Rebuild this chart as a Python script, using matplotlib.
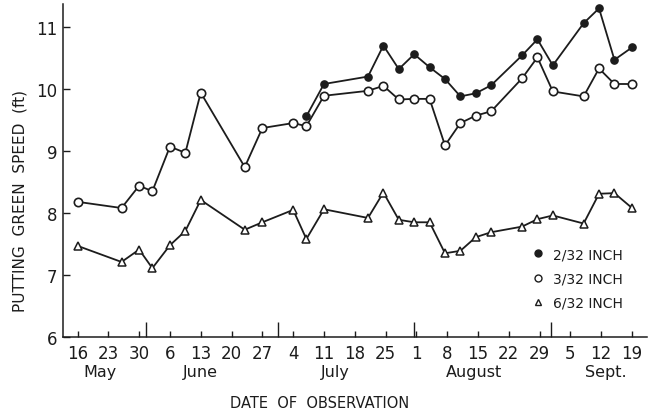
import numpy as np
import matplotlib
matplotlib.use('Agg')
import matplotlib.pyplot as plt
from matplotlib.lines import Line2D
import matplotlib.transforms as mtransforms

# ---------------------------------------------------------------------------
# Data (days counted from 16 May; speeds in feet)
# ---------------------------------------------------------------------------

obs_day = [0, 10, 14, 17, 21, 24.5, 28, 38, 42, 49, 52, 56, 66, 69.5,
           73, 76.5, 80, 83.5, 87, 90.5, 94, 101, 104.5, 108, 115, 118.5,
           122, 126]

speed_3_32 = [8.18, 8.08, 8.44, 8.35, 9.07, 8.97, 9.94, 8.74, 9.37, 9.45,
              9.40, 9.89, 9.97, 10.05, 9.83, 9.84, 9.84, 9.09, 9.45, 9.57,
              9.64, 10.17, 10.51, 9.96, 9.88, 10.33, 10.08, 10.08]

speed_6_32 = [7.47, 7.21, 7.41, 7.11, 7.48, 7.71, 8.21, 7.73, 7.85, 8.05,
              7.58, 8.06, 7.92, 8.33, 7.89, 7.85, 7.85, 7.35, 7.39, 7.61,
              7.69, 7.78, 7.90, 7.96, 7.83, 8.31, 8.32, 8.08]

# 2/32 inch cut was only measured from 7 July onward
first_2_32 = 10
speed_2_32 = [9.56, 10.08, 10.20, 10.70, 10.32, 10.56, 10.35, 10.16, 9.88,
              9.93, 10.06, 10.54, 10.80, 10.38, 11.06, 11.30, 10.47, 10.67]

series_labels = ['2/32 INCH', '3/32 INCH', '6/32 INCH']

week_day = list(range(0, 127, 7))
week_labels = ['16', '23', '30', '6', '13', '20', '27', '4', '11', '18',
               '25', '1', '8', '15', '22', '29', '5', '12', '19']
month_boundary_day = [15.5, 45.5, 76.5, 107.5]
month_names = ['May', 'June', 'July', 'August', 'Sept.']
month_name_day = [5, 28, 58.5, 90, 120]

INK = '#1c1c1c'

plt.rcParams.update({
    'font.family': 'DejaVu Sans',
    'axes.linewidth': 1.1,
    'axes.edgecolor': INK,
    'text.color': INK,
    'xtick.color': INK,
    'ytick.color': INK,
})

fig = plt.figure(figsize=(6.53, 4.14), dpi=100)
ax = fig.add_axes([63 / 653, 76 / 414, 584 / 653, 333 / 414])

line_kw = dict(color=INK, lw=1.3, zorder=2)

ax.plot(obs_day[first_2_32:], speed_2_32, marker='o', ms=5.2,
        mfc=INK, mec=INK, mew=1.0, **line_kw)
ax.plot(obs_day, speed_3_32, marker='o', ms=6.0,
        mfc='white', mec=INK, mew=1.2, **line_kw)
ax.plot(obs_day, speed_6_32, marker='^', ms=5.5,
        mfc='white', mec=INK, mew=1.1, **line_kw)

ax.set_xlim(-3.3, 129.4)
ax.set_ylim(6, 11.37)
ax.spines['top'].set_visible(False)
ax.spines['right'].set_visible(False)

ax.set_yticks([6, 7, 8, 9, 10, 11])
ax.set_yticklabels(['6', '7', '8', '9', '10', '11'])
ax.tick_params(axis='y', direction='in', length=5, width=1.0,
               labelsize=12, pad=4)

ax.set_xticks(week_day)
ax.set_xticklabels(week_labels)
ax.set_xticks(month_boundary_day, minor=True)
ax.tick_params(axis='x', which='major', direction='in', length=4,
               width=1.0, labelsize=12, pad=5)
ax.tick_params(axis='x', which='minor', direction='in', length=11,
               width=1.0)

trans = mtransforms.blended_transform_factory(ax.transData, ax.transAxes)
for name, d in zip(month_names, month_name_day):
    ax.text(d, -0.105, name, transform=trans, ha='center', va='center',
            fontsize=11.5)

fig.text(320 / 653, 1 - 404 / 414, 'DATE  OF  OBSERVATION',
         ha='center', va='center', fontsize=10.5)
fig.text(20 / 653, 1 - 201 / 414, 'PUTTING  GREEN  SPEED  (ft)',
         ha='center', va='center', rotation=90, fontsize=11)

handles = [
    Line2D([], [], ls='none', marker='o', ms=5, mfc=INK, mec=INK),
    Line2D([], [], ls='none', marker='o', ms=5, mfc='white', mec=INK,
           mew=1.0),
    Line2D([], [], ls='none', marker='^', ms=5, mfc='white', mec=INK,
           mew=1.0),
]
ax.legend(handles, series_labels, loc='upper left',
          bbox_to_anchor=(0.803, 0.27), frameon=False, fontsize=10,
          handlelength=0.8, handletextpad=0.75, labelspacing=0.75,
          borderpad=0, borderaxespad=0)

fig.savefig('out.png', dpi=100, facecolor='white')
